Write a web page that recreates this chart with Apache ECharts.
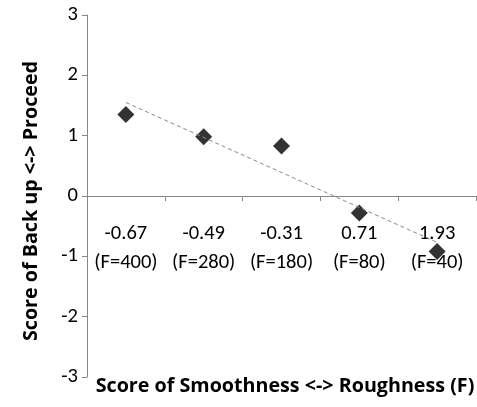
<!DOCTYPE html>
<html><head><meta charset="utf-8">
<script src="https://cdn.jsdelivr.net/npm/echarts@6/dist/echarts.min.js"></script>
<style>html,body{margin:0;padding:0;background:#fff}#c{width:477px;height:407px}</style>
</head><body><div id="c"></div>
<script>
const categories = ['-0.67\n(F=400)', '-0.49\n(F=280)', '-0.31\n(F=180)', '0.71\n(F=80)', '1.93\n(F=40)'];
const scores = [1.35, 0.98, 0.83, -0.28, -0.92];
const trend = [1.55, null, null, null, -0.77];
const yTicks = [-3, -2, -1, 0, 1, 2, 3];
const FONT = 'Carlito, Lato, "Open Sans", sans-serif';
const NAMEFONT = '"Open Sans", Lato, sans-serif';
const chart = echarts.init(document.getElementById('c'));
chart.setOption({
  animation: false,
  title: {
    text: 'Score of Smoothness <-> Roughness (F)',
    left: 280, top: 371, textAlign: 'center',
    textStyle: {fontFamily: NAMEFONT, fontSize: 19.7, fontWeight: 'bold', color: '#000'}
  },
  grid: {left: 87, right: 1, top: 15, bottom: 30, outerBoundsMode: 'none', containLabel: false},
  xAxis: {
    type: 'category', data: categories, boundaryGap: true,
    offset: -181,
    axisLine: {show: true, onZero: false, lineStyle: {color: '#888'}},
    axisTick: {show: true, length: 5, lineStyle: {color: '#888'}},
    axisLabel: {fontFamily: FONT, fontSize: 20.5, color: '#000', lineHeight: 29, margin: 23, interval: 0}
  },
  yAxis: {
    type: 'value', min: -3, max: 3, interval: 1,
    name: 'Score of Back up <-> Proceed', nameLocation: 'middle', nameGap: 46,
    nameTextStyle: {fontFamily: NAMEFONT, fontSize: 19.7, fontWeight: 'bold', color: '#000', padding: [0, 10, 0, 0]},
    axisLine: {show: true, lineStyle: {color: '#888'}},
    axisTick: {show: true, length: 5, lineStyle: {color: '#888'}},
    splitLine: {show: false},
    axisLabel: {fontFamily: FONT, fontSize: 20.5, color: '#000', margin: 9,
      formatter: v => yTicks.includes(v) ? String(v) : ''}
  },
  series: [
    {type: 'line', data: trend, connectNulls: true, symbol: 'none',
     lineStyle: {color: '#888', width: 1, type: [4, 3]}, z: 3},
    {type: 'scatter', data: scores, symbol: 'diamond', symbolSize: 17,
     itemStyle: {color: '#000'}, z: 2}
  ]
});
</script></body></html>
